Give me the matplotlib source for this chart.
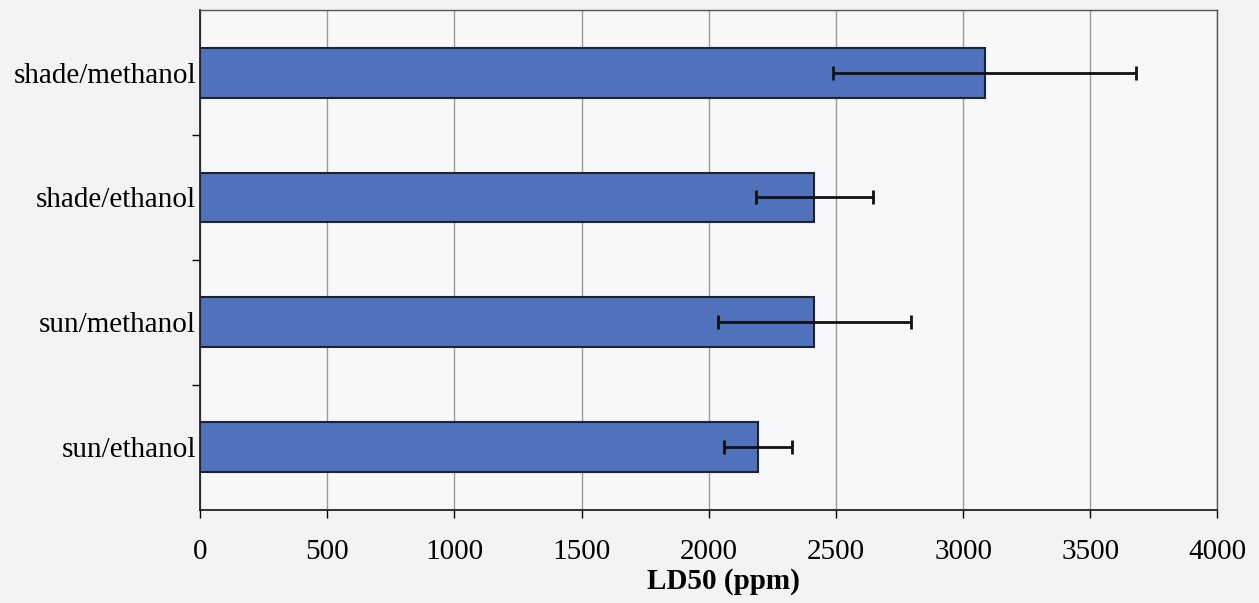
"""LD50 by treatment: horizontal bar chart with error bars."""

import matplotlib

matplotlib.use("Agg")
import matplotlib.pyplot as plt

treatments = ["shade/methanol", "shade/ethanol", "sun/methanol", "sun/ethanol"]
ld50 = [3085, 2415, 2415, 2193]
ld50_err = [595, 230, 380, 134]
x_ticks = [0, 500, 1000, 1500, 2000, 2500, 3000, 3500, 4000]

plt.rcParams["font.family"] = ["Liberation Serif", "DejaVu Serif"]

fig = plt.figure(figsize=(12.59, 6.03), dpi=100, facecolor="#f3f3f5")
ax = fig.add_axes([0.159, 0.155, 0.808, 0.828])
ax.set_facecolor("#f8f8fa")

pos = list(range(len(treatments)))
ax.barh(pos, ld50, height=0.4, color="#5072bd", edgecolor="#1c2430",
        linewidth=1.5, zorder=3)
ax.errorbar(ld50, pos, xerr=ld50_err, fmt="none", ecolor="#111111",
            elinewidth=2, capsize=5, capthick=2, zorder=4)

ax.set_ylim(len(treatments) - 0.5, -0.5)
ax.set_yticks(pos)
ax.set_yticklabels(treatments, fontsize=21)
ax.set_yticks([p + 0.5 for p in pos[:-1]], minor=True)
ax.tick_params(axis="y", which="major", length=0, pad=3)
ax.tick_params(axis="y", which="minor", length=6, width=1, direction="out")

ax.set_xlim(0, 4000)
ax.set_xticks(x_ticks)
ax.set_xticklabels([str(t) for t in x_ticks], fontsize=21)
ax.tick_params(axis="x", length=6, width=1, direction="out", pad=15)
ax.set_xlabel("LD50 (ppm)", fontsize=21, fontweight="bold")
ax.xaxis.set_label_coords(0.514, -0.117)

ax.grid(axis="x", color="#9a9a9a", linewidth=1, zorder=0)
for side in ["left", "bottom"]:
    ax.spines[side].set_color("#222222")
    ax.spines[side].set_linewidth(1.3)
for side in ["top", "right"]:
    ax.spines[side].set_color("#555555")
    ax.spines[side].set_linewidth(1)

fig.savefig("out.png", dpi=100, facecolor=fig.get_facecolor())
